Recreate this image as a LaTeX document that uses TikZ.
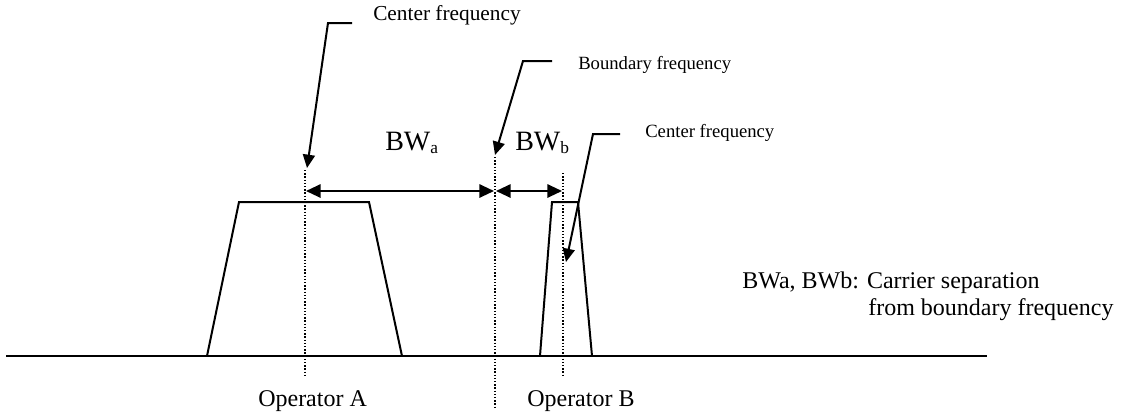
\documentclass[tikz,border=0pt]{standalone}
\usepackage{fontspec}
\setmainfont{Liberation Serif}
\usetikzlibrary{arrows.meta}

\begin{document}
\begin{tikzpicture}[x=0.75pt,y=-0.75pt,
    edge/.style={line width=1.5pt},
    marker/.style={line width=1.1pt, dash pattern=on 1.1pt off 1.3pt},
    callout/.style={line width=1.5pt, -{Triangle[length=10pt,width=9pt]}},
    span/.style={line width=1.5pt, {Triangle[length=11pt,width=10pt]}-{Triangle[length=11pt,width=10pt]}},
    lbl/.style={inner sep=0pt, anchor=base west, font=\fontsize{14}{17}\selectfont},
    txt/.style={inner sep=0pt, anchor=base west, font=\fontsize{18}{22}\selectfont},
    bw/.style={inner sep=0pt, anchor=base west, font=\fontsize{21}{25}\selectfont}]
    %%%%% START %%%%%
    \useasboundingbox (0,0) rectangle (1122,412);

    % frequency axis
    \draw[edge] (6,356) -- (987,356);

    % carriers
    \draw[edge] (207,356) -- (239,202) -- (369,202) -- (402,356);
    \draw[edge] (540,356) -- (552,202) -- (578,202) -- (592,356);

    % centre and boundary markers
    \coordinate (cA top) at (305,170);
    \coordinate (cA bot) at (305,376);
    \coordinate (bd top) at (495,157);
    \coordinate (bd bot) at (495,408);
    \coordinate (cB top) at (563,173);
    \coordinate (cB bot) at (563,377);
    \draw[marker] (cA top) -- (cA bot);
    \draw[marker] (bd top) -- (bd bot);
    \draw[marker] (cB top) -- (cB bot);

    % separations
    \coordinate (bwA l) at (306,191);
    \coordinate (bwA r) at (494,191);
    \coordinate (bwB l) at (496,191);
    \coordinate (bwB r) at (562,191);
    \draw[span] (bwA l) -- (bwA r);
    \draw[span] (bwB l) -- (bwB r);
    \node[bw] (bwA) at (385,150) {BW\raisebox{-0.25ex}{\fontsize{13}{13}\selectfont a}};
    \node[bw] (bwB) at (515,150) {BW\raisebox{-0.25ex}{\fontsize{13}{13}\selectfont b}};

    % callouts
    \node[lbl, font=\fontsize{16}{19}\selectfont] (cfA) at (373,20) {Center frequency};
    \coordinate (cfA end) at (352,23);
    \coordinate (cfA knee) at (328,23);
    \coordinate (cfA tip) at (307,168);
    \draw[callout] (cfA end) -- (cfA knee) -- (cfA tip);

    \node[lbl] (bnd) at (578,69) {Boundary frequency};
    \coordinate (bnd end) at (552,61);
    \coordinate (bnd knee) at (523,61);
    \coordinate (bnd tip) at (495,155);
    \draw[callout] (bnd end) -- (bnd knee) -- (bnd tip);

    \node[lbl] (cfB) at (645,137) {Center frequency};
    \coordinate (cfB end) at (620,134);
    \coordinate (cfB knee) at (593,134);
    \coordinate (cfB tip) at (566,262);
    \draw[callout] (cfB end) -- (cfB knee) -- (cfB tip);

    % operators
    \node[txt] (opA) at (258,406) {Operator A};
    \node[txt] (opB) at (527,406) {Operator B};

    % note
    \node[txt] (note1) at (742,288) {BWa, BWb: Carrier separation};
    \node[txt] (note2) at (868,315) {from boundary frequency};
    %%%%% END %%%%%
\end{tikzpicture}
\end{document}
